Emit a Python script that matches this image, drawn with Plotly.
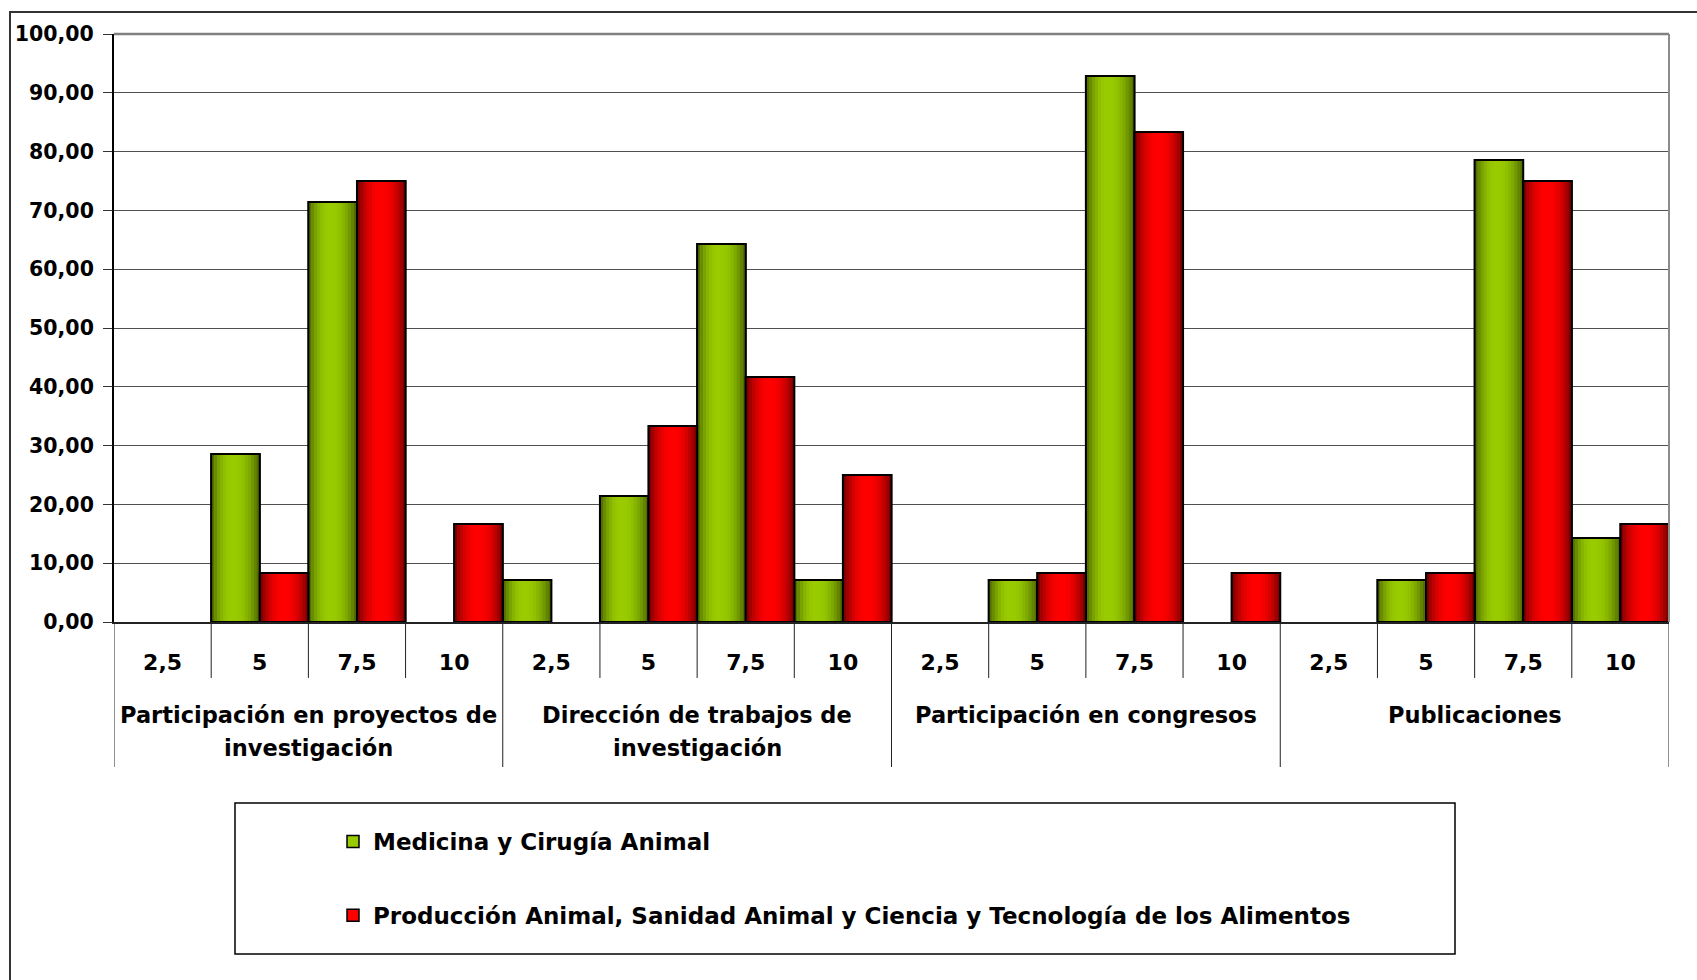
import plotly.graph_objects as go

# Survey results (% of respondents) by merit block and score
groups = [
    ["Participación en proyectos de", "investigación"],
    ["Dirección de trabajos de", "investigación"],
    ["Participación en congresos"],
    ["Publicaciones"],
]
scores = ["2,5", "5", "7,5", "10"]

series_names = [
    "Medicina y Cirugía Animal",
    "Producción Animal, Sanidad Animal y Ciencia y Tecnología de los Alimentos",
]
medicina = [0, 28.57, 71.43, 0,
            7.14, 21.43, 64.29, 7.14,
            0, 7.14, 92.86, 0,
            0, 7.14, 78.57, 14.29]
produccion = [0, 8.33, 75.00, 16.67,
              0, 33.33, 41.67, 25.00,
              0, 8.33, 83.33, 8.33,
              0, 8.33, 75.00, 16.67]

FONT = "DejaVu Sans, Verdana, sans-serif"
n_cat = len(groups) * len(scores)
xs = list(range(n_cat))
ticktext = scores * len(groups)


def clean(vals):
    return [v if v else None for v in vals]


def shade(t, peak, dark, bright):
    # cylinder-like horizontal shading: dark edges, bright core
    d = (peak - t) / peak if t < peak else (t - peak) / (1 - peak)
    b = max(0.0, 1 - d ** 2.2)
    return "rgb({},{},{})".format(*[round(dark[i] + b * (bright[i] - dark[i])) for i in range(3)])


styles = [
    dict(vals=medicina, offset=-0.5, dark=(72, 96, 0), bright=(153, 204, 0), peak=0.45, mid="#99cc00"),
    dict(vals=produccion, offset=0.0, dark=(105, 0, 0), bright=(255, 0, 0), peak=0.5, mid="#ff0000"),
]

fig = go.Figure()
HALF = 0.5
K = 16
for name, st in zip(series_names, styles):
    y = clean(st["vals"])
    # solid bar used for the legend entry
    fig.add_trace(go.Bar(
        x=xs, y=y, name=name, legendgroup=name,
        width=HALF, offset=st["offset"],
        marker=dict(color=st["mid"], line=dict(color="#000000", width=1.5)),
        hoverinfo="skip",
    ))
    # gradient strips
    for k in range(K):
        t = (k + 0.5) / K
        fig.add_trace(go.Bar(
            x=xs, y=y, showlegend=False, legendgroup=name,
            width=HALF / K * 1.08, offset=st["offset"] + k * HALF / K,
            marker=dict(color=shade(t, st["peak"], st["dark"], st["bright"]), line=dict(width=0)),
            hoverinfo="skip",
        ))
    # outline on top
    fig.add_trace(go.Bar(
        x=xs, y=y, showlegend=False, legendgroup=name,
        width=HALF, offset=st["offset"],
        marker=dict(color="rgba(0,0,0,0)", line=dict(color="#000000", width=2)),
        hoverinfo="skip",
    ))

shapes = []
# plot-area frame (top and right)
shapes.append(dict(type="line", xref="paper", yref="paper", x0=0, x1=1, y0=1, y1=1,
                   line=dict(color="#808080", width=2.5)))
shapes.append(dict(type="line", xref="paper", yref="paper", x0=1, x1=1, y0=0, y1=1,
                   line=dict(color="#8c8c8c", width=2)))
# category and group dividers under the axis
for b in range(n_cat + 1):
    xb = b - 0.5
    is_group = b % len(scores) == 0
    shapes.append(dict(type="line", xref="x", yref="paper", x0=xb, x1=xb,
                       y0=0, y1=-0.2466 if is_group else -0.0952,
                       line=dict(color="#222222", width=1)))
# legend box
shapes.append(dict(type="rect", xref="paper", yref="paper",
                   x0=0.07781, x1=0.86238, y0=-0.56463, y1=-0.30782,
                   line=dict(color="#000000", width=1.5), fillcolor="rgba(0,0,0,0)"))
# outer chart border
shapes.append(dict(type="rect", xref="paper", yref="paper",
                   x0=-0.06688, x1=1.1, y0=-0.7, y1=1.03741,
                   line=dict(color="#333333", width=2), fillcolor="rgba(0,0,0,0)"))

# group labels, one annotation per text line
line_y = [-0.1582, -0.2145]
annotations = []
for gi, lines in enumerate(groups):
    for li, txt in enumerate(lines):
        annotations.append(dict(
            x=gi * len(scores) + 1.5, xref="x", y=line_y[li], yref="paper",
            yanchor="middle", xanchor="center", showarrow=False,
            text=txt, font=dict(family=FONT, size=22.5, color="#000000", weight="bold"),
        ))

fig.update_layout(
    width=1697, height=980,
    margin=dict(l=114, r=28, t=34, b=358),
    paper_bgcolor="#ffffff", plot_bgcolor="#ffffff",
    barmode="overlay", separators=",.",
    font=dict(family=FONT, size=22, color="#000000", weight="bold"),
    shapes=shapes, annotations=annotations,
    showlegend=True,
    legend=dict(
        x=0.14084, y=-0.3367, xanchor="left", yanchor="top",
        bgcolor="rgba(0,0,0,0)", borderwidth=0,
        traceorder="grouped", tracegroupgap=41,
        font=dict(family=FONT, size=23, color="#000000", weight="bold"),
    ),
    xaxis=dict(
        range=[-0.5, n_cat - 0.5], tickvals=xs, ticktext=ticktext,
        showgrid=False, zeroline=False, ticks="",
        showline=True, linecolor="#222222", linewidth=1.5,
        ticklabelstandoff=20,
        tickfont=dict(family=FONT, size=22, color="#000000", weight="bold"),
    ),
    yaxis=dict(
        range=[0, 100], dtick=10, tickformat=".2f",
        showgrid=True, gridcolor="#505050", gridwidth=1, zeroline=False,
        showline=True, linecolor="#000000", linewidth=2,
        ticks="outside", ticklen=9, tickcolor="#333333", tickwidth=1,
        ticklabelstandoff=5,
        tickfont=dict(family=FONT, size=20.5, color="#000000", weight="bold"),
    ),
)

fig.write_html("out.html")
